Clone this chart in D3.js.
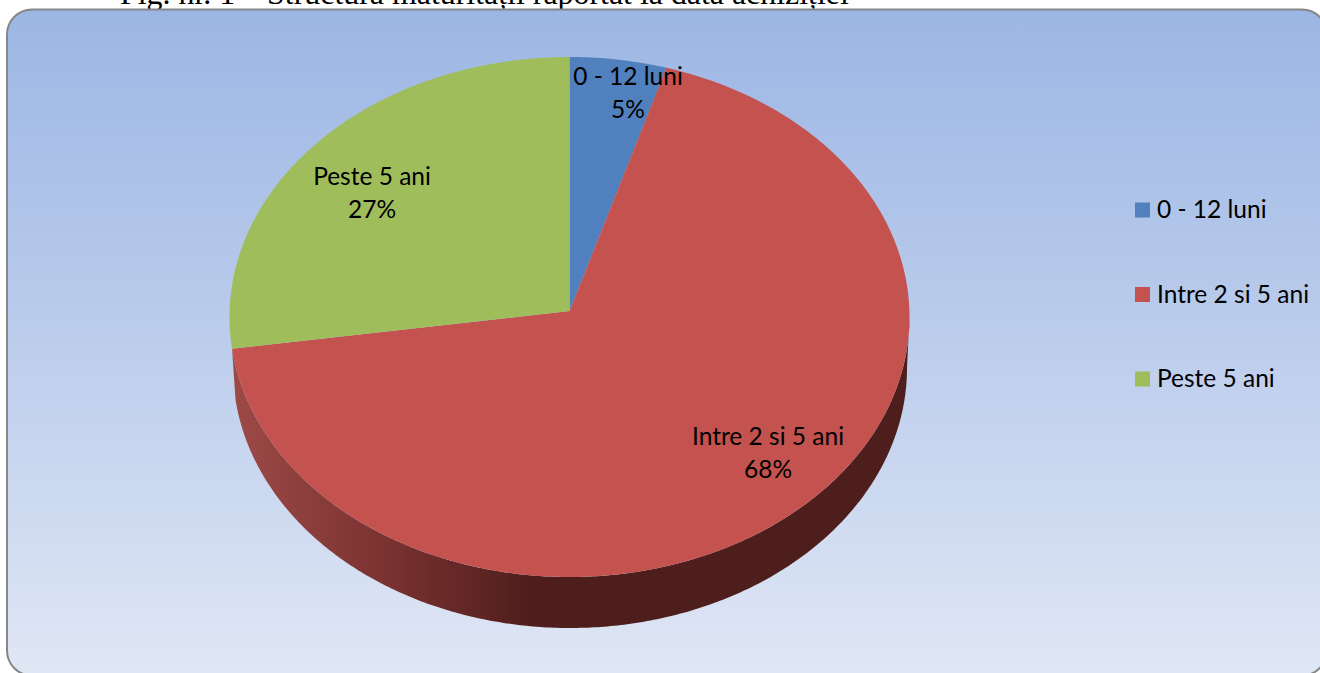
<!DOCTYPE html>
<html>
<head>
<meta charset="utf-8">
<script src="https://cdn.jsdelivr.net/npm/d3@7"></script>
<style>
  html, body { margin: 0; padding: 0; background: #fff; overflow: hidden; }
  svg { display: block; }
  text { font-family: Lato, sans-serif; fill: #000; }
</style>
</head>
<body>
<svg id="chart"></svg>
<script>
var width = 1320, height = 673;

// values
var categories = ["0 - 12 luni", "Intre 2 si 5 ani", "Peste 5 ani"];
var shares = [4.6, 68.45, 26.95];
var colors = ["#5080bd", "#c4524f", "#a0bd5c"];
var title = "Fig. nr. 1 – Structura maturității raportat la data achiziției";

var svg = d3.select("#chart")
    .attr("width", width)
    .attr("height", height);

var defs = svg.append("defs");

var bg = defs.append("linearGradient")
    .attr("id", "bg")
    .attr("x1", 0).attr("y1", 0).attr("x2", 0).attr("y2", 1);
bg.append("stop").attr("offset", "0%").attr("stop-color", "#9cb6e4");
bg.append("stop").attr("offset", "50%").attr("stop-color", "#bccdec");
bg.append("stop").attr("offset", "100%").attr("stop-color", "#e0e7f5");

// side of the pie gets darker towards the front
var side = defs.append("linearGradient")
    .attr("id", "side")
    .attr("gradientUnits", "userSpaceOnUse")
    .attr("x1", 232).attr("y1", 0).attr("x2", 570).attr("y2", 0);
side.append("stop").attr("offset", "0%").attr("stop-color", "#9d4a47");
side.append("stop").attr("offset", "50%").attr("stop-color", "#76302e");
side.append("stop").attr("offset", "88%").attr("stop-color", "#4f1e1c");
side.append("stop").attr("offset", "100%").attr("stop-color", "#4e1e1c");

// title sits behind the chart box and is cut by it
svg.append("text")
    .attr("x", 120)
    .attr("y", 4)
    .style("font-family", "'Liberation Serif', serif")
    .style("font-size", "31.9px")
    .text(title);

svg.append("rect")
    .attr("x", 7)
    .attr("y", 9.5)
    .attr("width", 1320)
    .attr("height", 666)
    .attr("rx", 25)
    .attr("fill", "url(#bg)")
    .attr("stroke", "#868686")
    .attr("stroke-width", 2);

// unit circle to screen, the top face is an ellipse
var x = d3.scaleLinear().domain([-1, 1]).range([229.5, 909.5]);
var y = d3.scaleLinear().domain([1, -1]).range([57, 577]);
var xBottom = d3.scaleLinear().domain([-1, 1]).range([233, 907]);
var depth = 51;
var apex = [569.5, 311];

var pie = d3.pie().sort(null).value(d => d);
var slices = pie(shares);

function samples(a0, a1) {
    var n = Math.max(2, Math.ceil((a1 - a0) / 0.01));
    return d3.range(n + 1).map(i => a0 + (a1 - a0) * i / n);
}
function rim(a) {
    return [x(Math.sin(a)), y(Math.cos(a))];
}
function rimLow(a) {
    return [xBottom(Math.sin(a)), y(Math.cos(a)) + depth];
}
var line = d3.line();

// side wall, only the front half shows
var red = slices[1];
var a0 = Math.PI / 2, a1 = red.endAngle;
var wallTop = samples(a0, a1).map(rim);
var wallLow = samples(a0, a1).map(rimLow).reverse();
svg.append("path")
    .attr("d", line(wallTop.concat(wallLow)) + "Z")
    .attr("fill", "url(#side)");

// top face
svg.selectAll(".slice")
    .data(slices)
    .enter()
    .append("path")
    .attr("class", "slice")
    .attr("d", d => line([apex].concat(samples(d.startAngle, d.endAngle).map(rim))) + "Z")
    .attr("fill", (d, i) => colors[i]);

// data labels
var labelPos = [[628, 85], [768, 445], [372, 185]];
var pct = d3.format(".0f");
var labels = svg.selectAll(".label")
    .data(slices)
    .enter()
    .append("g")
    .attr("class", "label")
    .attr("transform", (d, i) => `translate(${labelPos[i][0]},${labelPos[i][1]})`);
labels.append("text")
    .attr("text-anchor", "middle")
    .style("font-size", "24.5px")
    .text((d, i) => categories[i]);
labels.append("text")
    .attr("text-anchor", "middle")
    .attr("y", 33)
    .style("font-size", "24.5px")
    .text(d => pct(d.value) + "%");

// legend
var legendY = d3.scalePoint().domain(categories).range([210, 379]);
var legend = svg.selectAll(".legend")
    .data(categories)
    .enter()
    .append("g")
    .attr("class", "legend")
    .attr("transform", d => `translate(1135,${legendY(d)})`);
legend.append("rect")
    .attr("y", -7.5)
    .attr("width", 15)
    .attr("height", 15)
    .attr("fill", (d, i) => colors[i]);
legend.append("text")
    .attr("x", 22)
    .attr("y", 8)
    .style("font-size", "24.5px")
    .text(d => d);
</script>
</body>
</html>
